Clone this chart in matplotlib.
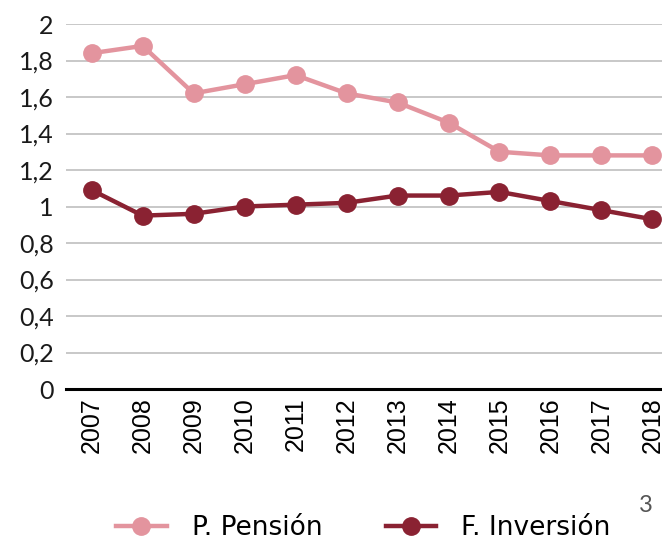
import matplotlib
matplotlib.use("Agg")
import matplotlib.pyplot as plt
from matplotlib.ticker import FuncFormatter

# Datos
anios = ["2007", "2008", "2009", "2010", "2011", "2012",
         "2013", "2014", "2015", "2016", "2017", "2018"]
p_pension = [1.84, 1.88, 1.62, 1.67, 1.72, 1.62, 1.57, 1.46, 1.30, 1.28, 1.28, 1.28]
f_inversion = [1.09, 0.95, 0.96, 1.00, 1.01, 1.02, 1.06, 1.06, 1.08, 1.03, 0.98, 0.93]

rosa = "#E3949E"
granate = "#8A2232"

fig = plt.figure(figsize=(6.62, 5.43), dpi=100)
ax = fig.add_axes([0.1, 0.2836, 0.924, 0.6722])

x = list(range(len(anios)))
ax.plot(x, p_pension, color=rosa, linewidth=3.2, marker="o", markersize=12.5,
        label="P. Pensión", clip_on=False, zorder=3)
ax.plot(x, f_inversion, color=granate, linewidth=3.2, marker="o", markersize=12.5,
        label="F. Inversión", clip_on=False, zorder=3)

ax.set_xlim(-0.5, len(anios) - 0.5)
ax.set_ylim(0, 2)
ax.set_yticks([i * 0.2 for i in range(11)])
ax.yaxis.set_major_formatter(FuncFormatter(lambda v, p: f"{v:.1f}".replace(".", ",").replace(",0", "")))
ax.set_xticks(x)
ax.set_xticklabels(anios, rotation=90, fontsize=18, family="Liberation Sans")
for lab in ax.get_yticklabels():
    lab.set_fontsize(18)
    lab.set_family("Lato")
    lab.set_color("#1a1a1a")

ax.grid(axis="y", color="#C8C8C8", linewidth=1.4)
ax.set_axisbelow(True)
for s in ["top", "right", "left"]:
    ax.spines[s].set_visible(False)
ax.spines["bottom"].set_linewidth(2.2)
ax.spines["bottom"].set_color("black")
ax.tick_params(length=0, pad=6)
ax.tick_params(axis="y", pad=9)

fig.legend(loc="lower left", bbox_to_anchor=(0.14, -0.04), ncol=2, frameon=False,
           prop={"family": "DejaVu Sans", "size": 19}, handlelength=1.9, handletextpad=0.95,
           columnspacing=2.4, markerscale=1.0)
fig.text(0.965, 0.058, "3", fontsize=17, color="#555555", family="Lato")

fig.savefig("out.png", dpi=100)
